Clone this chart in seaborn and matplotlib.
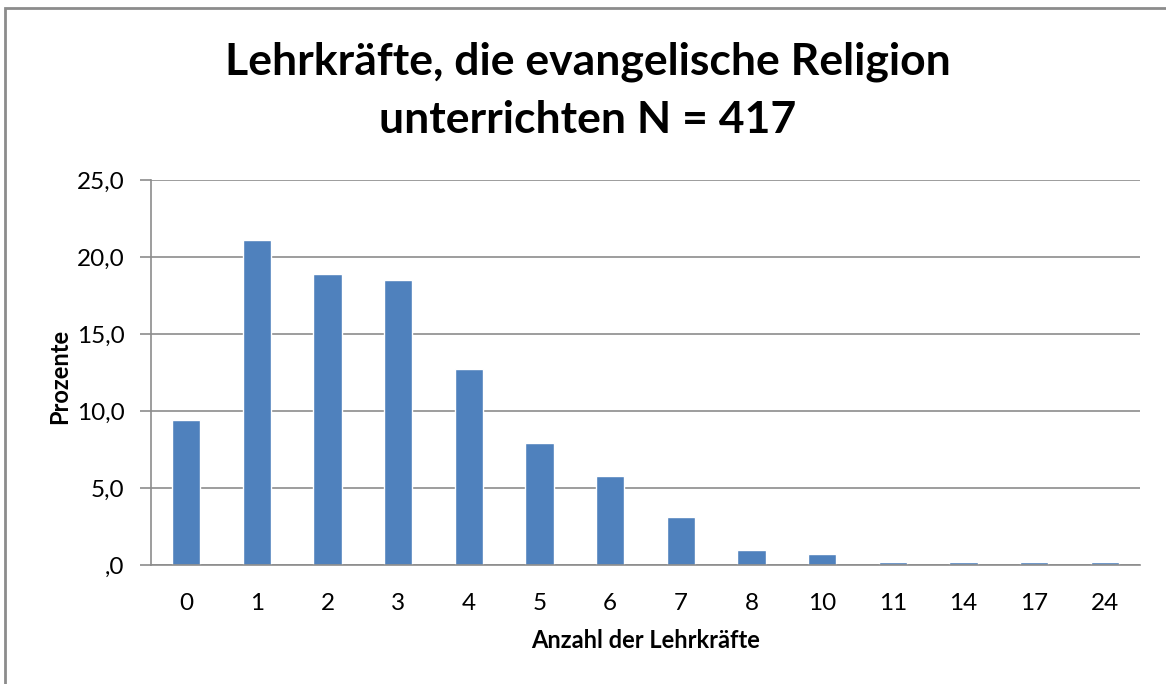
import matplotlib

matplotlib.use("Agg")
import matplotlib.pyplot as plt
import pandas as pd
import seaborn as sns
from matplotlib.patches import Rectangle
from matplotlib.ticker import FuncFormatter

# Anzahl der Lehrkräfte und Anteil in Prozent (N = 417)
anzahl = ["0", "1", "2", "3", "4", "5", "6", "7", "8", "10", "11", "14", "17", "24"]
prozent = [9.4, 21.1, 18.9, 18.5, 12.7, 7.9, 5.8, 3.1, 1.0, 0.7, 0.2, 0.2, 0.2, 0.2]
y_ticks = [0, 5, 10, 15, 20, 25]

sns.set_theme(style="white")
plt.rcParams["font.family"] = ["Lato", "DejaVu Sans"]
plt.rcParams["text.color"] = "black"
plt.rcParams["axes.labelcolor"] = "black"
plt.rcParams["xtick.color"] = "black"
plt.rcParams["ytick.color"] = "black"

df = pd.DataFrame({"anzahl": anzahl, "prozent": prozent})


def komma(v, _):
    s = ("%.1f" % v).replace(".", ",")
    return s[1:] if s.startswith("0") else s


fig = plt.figure(figsize=(11.66, 6.84), dpi=100)
ax = fig.add_axes([151 / 1166, 1 - 565 / 684, 989 / 1166, 385 / 684])

sns.barplot(data=df, x="anzahl", y="prozent", order=anzahl, color="#4F81BD",
            saturation=1, width=0.4, ax=ax)

ax.set_ylim(0, 25)
ax.set_yticks(y_ticks)
ax.yaxis.set_major_formatter(FuncFormatter(komma))
ax.grid(axis="y", color="#8c8c8c", linewidth=1.2)
ax.set_axisbelow(True)
for side in ["top", "right"]:
    ax.spines[side].set_visible(False)
for side in ["left", "bottom"]:
    ax.spines[side].set_color("#8c8c8c")
    ax.spines[side].set_linewidth(1.2)
ax.tick_params(axis="y", length=8, width=1.2, color="#8c8c8c", labelsize=17.5, pad=11, left=True)
ax.tick_params(axis="x", length=0, labelsize=17.5, pad=20)

ax.set_xlabel("Anzahl der Lehrkräfte", fontsize=17, fontweight="bold")
ax.set_ylabel("Prozente", fontsize=17, fontweight="bold")
ax.xaxis.set_label_coords(0.5, -0.195)
ax.xaxis.label.set_va("center")
ax.yaxis.set_label_coords(-0.092, 0.49)
ax.yaxis.label.set_va("center")

fig.text(0.504, 1 - 75 / 684, "Lehrkräfte, die evangelische Religion",
         ha="center", va="baseline", fontsize=32, fontweight="bold")
fig.text(0.504, 1 - 133 / 684, "unterrichten N = 417",
         ha="center", va="baseline", fontsize=32, fontweight="bold")

# Rahmen um das Diagramm
fig.add_artist(Rectangle((5 / 1166, -0.1), 1.2, 1 - 8 / 684 + 0.1, transform=fig.transFigure,
                         fill=False, edgecolor="#8c8c8c", linewidth=2))

fig.savefig("out.png", dpi=100)
